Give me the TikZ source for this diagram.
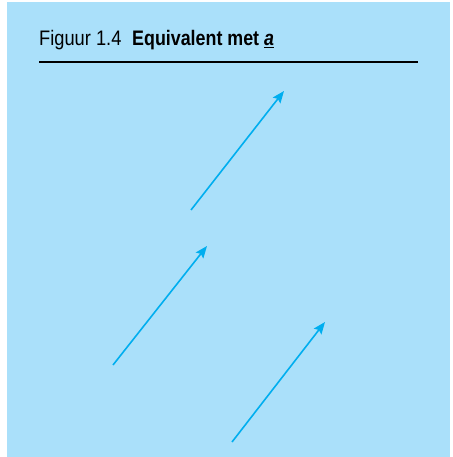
\documentclass[tikz,border=0pt]{standalone}
\usepackage{fontspec}
\setmainfont[FakeStretch=0.85]{Liberation Sans}
\newfontfamily\figfont[FakeStretch=0.87]{Liberation Sans}
\usepackage{xcolor}
\usetikzlibrary{arrows.meta}
\definecolor{panelblue}{RGB}{170,224,250}
\definecolor{vecblue}{RGB}{0,174,239}

\begin{document}
\begin{tikzpicture}[x=1pt,y=-1pt]
    \useasboundingbox (0,0) rectangle (452,457);
    \fill[panelblue] (7,2) rectangle (450,457);

    \coordinate (A1) at (191,210);
    \coordinate (B1) at (284,91);
    \coordinate (A2) at (113,365);
    \coordinate (B2) at (207,246);
    \coordinate (A3) at (232,442);
    \coordinate (B3) at (325,322);
    \coordinate (L) at (39,62);
    \coordinate (R) at (418,62);

    \node[anchor=base west, inner sep=0pt] (fig) at (39,46)
        {\fontsize{21}{25}\figfont Figuur 1.4};
    \node[anchor=base west, inner sep=0pt] (title) at (132,46)
        {\fontsize{21}{25}\selectfont\bfseries Equivalent met \underline{\textit{a}}};

    \draw[line width=2pt] (L) -- (R);

    \draw[vecblue, line width=1.6pt, -{Stealth[length=12pt,width=9.5pt,inset=2pt]}] (A1) -- (B1);
    \draw[vecblue, line width=1.6pt, -{Stealth[length=12pt,width=9.5pt,inset=2pt]}] (A2) -- (B2);
    \draw[vecblue, line width=1.6pt, -{Stealth[length=12pt,width=9.5pt,inset=2pt]}] (A3) -- (B3);
\end{tikzpicture}
\end{document}
